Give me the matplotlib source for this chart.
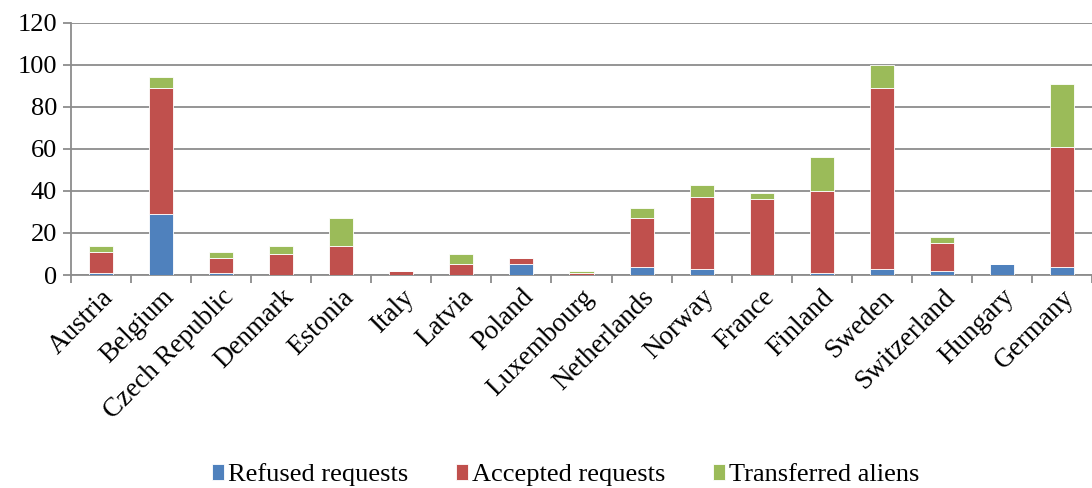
import numpy as np
import matplotlib.pyplot as plt

countries = ['Austria', 'Belgium', 'Czech Republic', 'Denmark', 'Estonia', 'Italy',
             'Latvia', 'Poland', 'Luxembourg', 'Netherlands', 'Norway', 'France',
             'Finland', 'Sweden', 'Switzerland', 'Hungary', 'Germany']
refused = [1, 29, 1, 0, 0, 0, 0, 5, 0, 4, 3, 0, 1, 3, 2, 5, 4]
accepted = [10, 60, 7, 10, 14, 2, 5, 3, 1, 23, 34, 36, 39, 86, 13, 0, 57]
transferred = [3, 5, 3, 4, 13, 0, 5, 0, 1, 5, 6, 3, 16, 11, 3, 0, 30]

series = [
    ('Refused requests', refused, '#4F81BD'),
    ('Accepted requests', accepted, '#C0504D'),
    ('Transferred aliens', transferred, '#9BBB59'),
]

plt.rcParams['font.family'] = ['Liberation Serif', 'DejaVu Serif']

fig = plt.figure(figsize=(10.92, 4.88), dpi=100)
ax = fig.add_axes([71 / 1092, 1 - 275 / 488, 1021 / 1092, (275 - 22.7) / 488])

x = np.arange(len(countries))
bottom = np.zeros(len(countries))
for label, vals, color in series:
    vals = np.array(vals, dtype=float)
    ax.bar(x, vals, width=0.4, bottom=bottom, color=color, label=label,
           edgecolor='white', linewidth=0.6, zorder=3)
    bottom += vals

grid_c = '#8c8c8c'
ax.set_xlim(-0.5, len(countries) - 0.5)
ax.set_ylim(0, 120)
ax.set_yticks(range(0, 121, 20))
ax.yaxis.grid(True, color=grid_c, linewidth=1.3, zorder=0)
ax.set_xticks(np.arange(-0.5, len(countries), 1.0), minor=True)
ax.set_xticks(x)
ax.set_xticklabels(countries, rotation=45, ha='right', rotation_mode='anchor',
                   fontsize=19.5)
ax.tick_params(axis='x', which='major', length=0, pad=7)
ax.tick_params(axis='x', which='minor', length=6, width=1.3, color=grid_c)
ax.tick_params(axis='y', length=6, width=1.3, color=grid_c, labelsize=19, pad=4)

for side in ['top', 'right']:
    ax.spines[side].set_visible(False)
for side in ['left', 'bottom']:
    ax.spines[side].set_color(grid_c)
    ax.spines[side].set_linewidth(1.3)

fig.legend(loc='lower center', bbox_to_anchor=(0.518, -0.045), ncol=3, frameon=False,
           fontsize=19, handlelength=0.45, handleheight=0.55, handletextpad=0.15,
           columnspacing=1.8)

fig.savefig('out.png', dpi=100)
